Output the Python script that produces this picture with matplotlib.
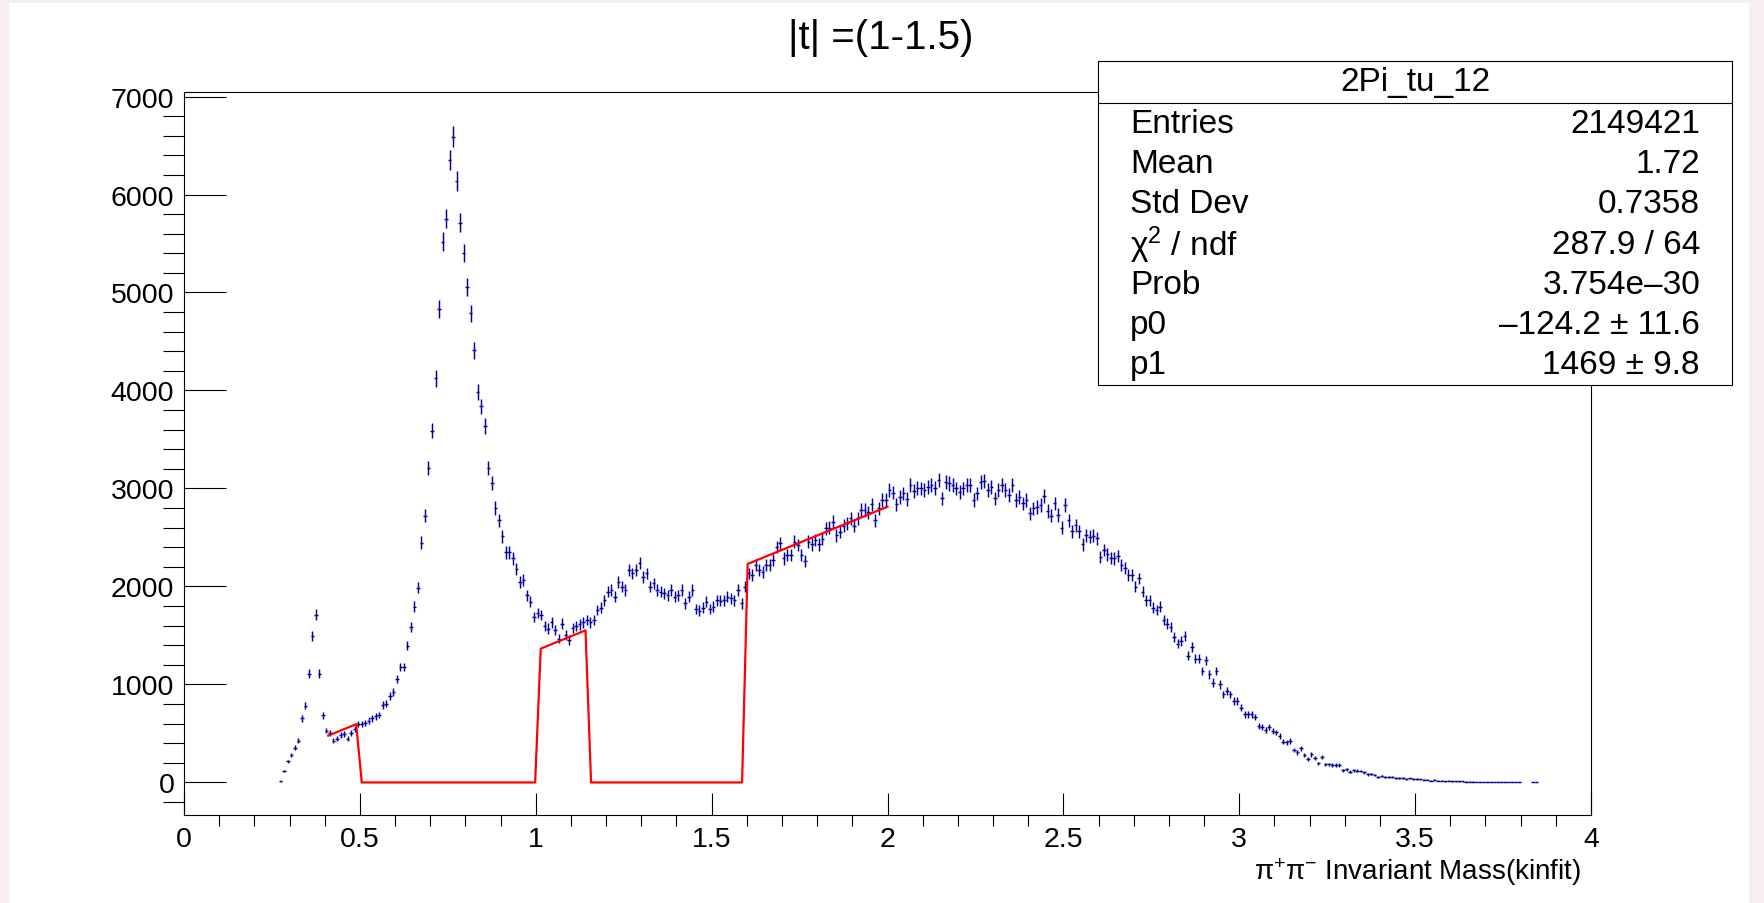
import numpy as np
import matplotlib
matplotlib.use("Agg")
import matplotlib.pyplot as plt
from matplotlib.patches import Rectangle
from matplotlib.lines import Line2D
from matplotlib.ticker import MultipleLocator

plt.rcParams['font.family'] = ['Liberation Sans', 'DejaVu Sans']
plt.rcParams['mathtext.fontset'] = 'custom'
plt.rcParams['mathtext.rm'] = 'Liberation Sans'
plt.rcParams['mathtext.it'] = 'Liberation Sans:italic'

TITLE = "|t| =(1-1.5)"
X_LABEL = "π$^{+}$π$^{-}$ Invariant Mass(kinfit)"
HIST_NAME = "2Pi_tu_12"

# histogram: 0.01 wide bins, first bin centre at 0.275
first_center = 0.275
bin_width = 0.01
counts = [
    12, 118, 214, 278, 355, 425, 653, 782, 1110, 1498,
    1714, 1110, 686, 530, 503, 425, 448, 485, 494, 448,
    503, 550, 599, 599, 608, 631, 653, 676, 690, 790,
    804, 881, 927, 1055, 1178, 1178, 1397, 1590, 1795, 1987,
    2448, 2722, 3211, 3590, 4124, 4832, 5517, 5755, 6349, 6591,
    6135, 5714, 5404, 5052, 4787, 4412, 3988, 3837, 3636, 3211,
    3060, 2800, 2677, 2512, 2347, 2347, 2286, 2177, 2048, 2065,
    1912, 1844, 1691, 1731, 1707, 1599, 1571, 1633, 1554, 1469,
    1622, 1503, 1452, 1578, 1599, 1612, 1633, 1656, 1633, 1656,
    1759, 1782, 1861, 1946, 1963, 1895, 2048, 1997, 1963, 2167,
    2133, 2167, 2235, 2099, 2133, 1997, 2031, 1963, 1946, 1929,
    1912, 1963, 1895, 1912, 1963, 1827, 1895, 1963, 1769, 1752,
    1782, 1844, 1769, 1793, 1861, 1854, 1861, 1895, 1878, 1861,
    1963, 1827, 1997, 2133, 2116, 2218, 2167, 2150, 2218, 2218,
    2269, 2405, 2439, 2286, 2320, 2320, 2456, 2422, 2320, 2258,
    2456, 2429, 2473, 2429, 2483, 2592, 2599, 2660, 2524, 2558,
    2619, 2643, 2694, 2619, 2694, 2779, 2779, 2755, 2837, 2677,
    2796, 2881, 2881, 2983, 2959, 2837, 2915, 2949, 2891, 3034,
    2973, 3007, 3000, 2983, 3017, 3034, 3007, 3085, 2898, 3068,
    3051, 3034, 3000, 2966, 3000, 3034, 3034, 2881, 2949, 3068,
    3075, 2983, 3017, 2898, 2983, 3034, 2983, 2932, 3034, 2881,
    2915, 2847, 2881, 2745, 2796, 2813, 2830, 2925, 2769, 2721,
    2847, 2728, 2599, 2830, 2677, 2565, 2626, 2565, 2429, 2524,
    2507, 2517, 2490, 2303, 2371, 2327, 2293, 2286, 2313, 2218,
    2184, 2116, 2116, 1997, 2082, 1946, 1861, 1861, 1782, 1759,
    1793, 1656, 1622, 1588, 1486, 1418, 1442, 1497, 1293, 1384,
    1265, 1265, 1136, 1248, 1102, 1020, 1136, 1000, 898, 932,
    898, 830, 830, 762, 694, 694, 694, 670, 575, 568,
    534, 568, 524, 510, 476, 415, 408, 422, 330, 306,
    347, 279, 238, 286, 252, 194, 262, 184, 184, 177,
    177, 177, 126, 136, 109, 126, 122, 116, 102, 82,
    88, 75, 58, 65, 58, 58, 58, 48, 48, 48,
    34, 41, 34, 34, 31, 27, 27, 20, 24, 20,
    17, 14, 17, 14, 12, 10, 10, 8, 8, 7,
    6, 5, 5, 4, 4, 3, 3, 3, 2, 2,
    2, 1, 1, 0, 0, 0, 1, 1,
]
ERR_SCALE = 1.3  # weighted-histogram errors, a bit above sqrt(N)

# linear fit (pol1) with two excluded windows
p0, p1 = -124.2, 1469.0
fit_range = (0.41, 2.0)
excluded = [(0.5, 1.0), (1.15, 1.6)]

stat_labels = ["Entries", "Mean", "Std Dev", "χ$^{2}$ / ndf", "Prob", "p0", "p1"]
stat_values = ["2149421", "1.72", "0.7358", "287.9 / 64", "3.754e\u201330",
               "\u2013124.2 \u00b1 11.6", "1469 \u00b1 9.8"]

W, H = 1764, 904


def fx(px):
    return px / W


def fy(py):
    return 1 - py / H


def main():
    fig = plt.figure(figsize=(W / 100, H / 100), dpi=100)
    fig.patch.set_facecolor("#f8eef2")
    fig.add_artist(Rectangle((fx(9), 0), fx(1749) - fx(9), fy(4), transform=fig.transFigure,
                             facecolor="white", edgecolor="none", zorder=-5))

    ax = fig.add_axes([fx(184), fy(816), fx(1591) - fx(184), fy(93) - fy(816)])

    y = np.array(counts, dtype=float)
    x = first_center + bin_width * np.arange(len(y))
    keep = y > 0
    ax.errorbar(x[keep], y[keep], yerr=ERR_SCALE * np.sqrt(y[keep]), xerr=bin_width / 2,
                fmt="none", ecolor="#000099", elinewidth=1.05, capsize=0, zorder=2)

    xs = np.linspace(fit_range[0], fit_range[1], 101)
    ys = p0 + p1 * xs
    for lo, hi in excluded:
        ys[(xs > lo) & (xs < hi)] = 0.0
    ax.plot(xs, ys, color="red", lw=1.6, zorder=3)

    ax.set_xlim(0, 4)
    ax.set_ylim(-332, 7046)
    ax.xaxis.set_major_locator(MultipleLocator(0.5))
    ax.xaxis.set_minor_locator(MultipleLocator(0.1))
    ax.yaxis.set_major_locator(MultipleLocator(1000))
    ax.yaxis.set_minor_locator(MultipleLocator(200))
    ax.xaxis.set_major_formatter(plt.FuncFormatter(lambda v, _: f"{v:g}"))
    ax.tick_params(top=False, right=False, labelsize=20.5, width=0.8, direction="in")
    ax.tick_params(axis="x", which="major", length=15.8, pad=8)
    ax.tick_params(axis="x", which="minor", length=7.9, width=0.8)
    ax.tick_params(axis="y", which="major", length=30.2, pad=7)
    ax.tick_params(axis="y", which="minor", length=15.1, width=0.8)
    for s in ax.spines.values():
        s.set_linewidth(0.8)

    fig.text(fx(881), fy(38), TITLE, ha="center", va="center", fontsize=29)
    fig.text(fx(1581), fy(872), X_LABEL, ha="right", va="center", fontsize=20)

    # stats box
    bx0, bx1, by0, by1, sep = 1098, 1732, 62, 386, 104
    fig.add_artist(Rectangle((fx(bx0), fy(by1)), fx(bx1) - fx(bx0), fy(by0) - fy(by1),
                             transform=fig.transFigure, facecolor="white",
                             edgecolor="black", lw=0.8, zorder=5))
    fig.add_artist(Line2D([fx(bx0), fx(bx1)], [fy(sep), fy(sep)], transform=fig.transFigure,
                          color="black", lw=0.8, zorder=6))
    fig.text(fx((bx0 + bx1) / 2), fy((by0 + sep) / 2), HIST_NAME, ha="center", va="center",
             fontsize=24, zorder=7)
    row_h = (by1 - sep) / len(stat_labels)
    for i, (lab, val) in enumerate(zip(stat_labels, stat_values)):
        yc = sep + row_h * (i + 0.5)
        fig.text(fx(1130), fy(yc), lab, ha="left", va="center", fontsize=24, zorder=7)
        fig.text(fx(1700), fy(yc), val, ha="right", va="center", fontsize=24, zorder=7)

    fig.savefig("out.png", dpi=100)
    plt.close(fig)


if __name__ == "__main__":
    main()
